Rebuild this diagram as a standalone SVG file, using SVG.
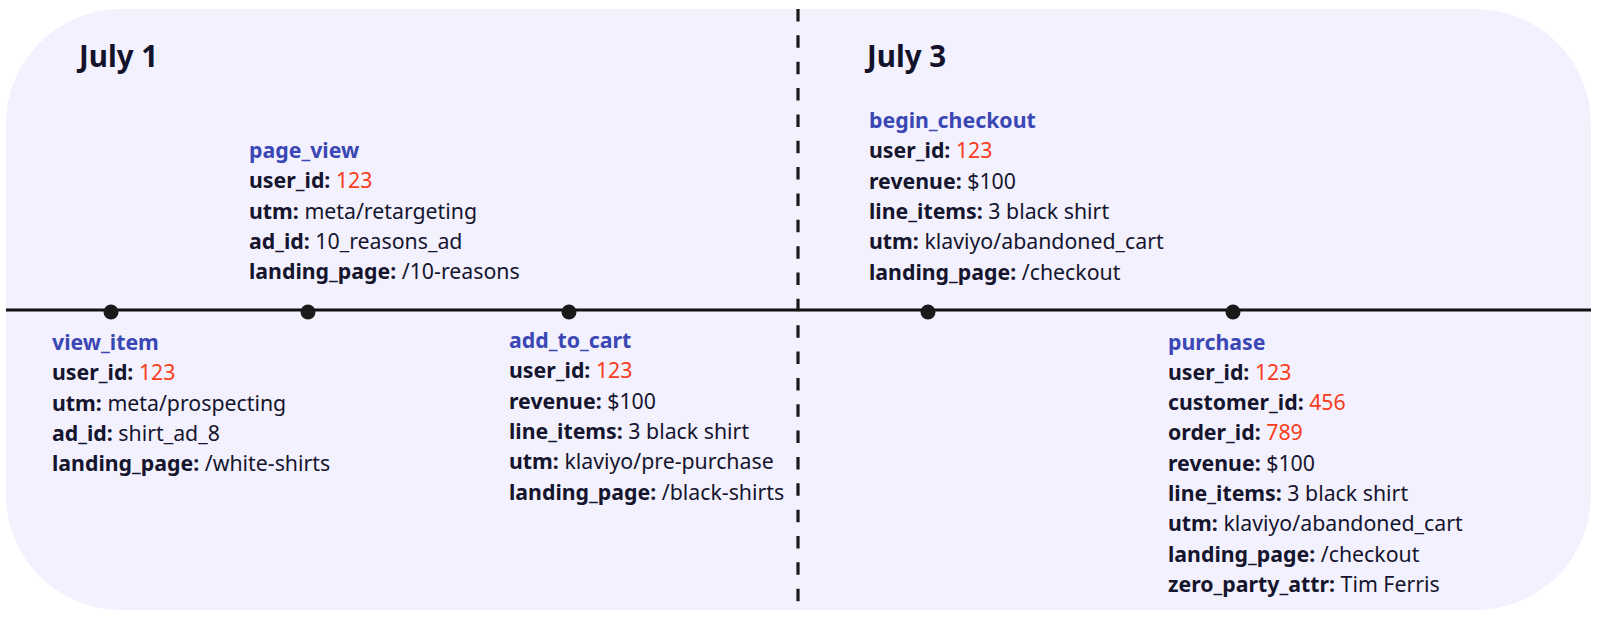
<svg xmlns="http://www.w3.org/2000/svg" width="1600" height="619" viewBox="0 0 1600 619">
<style>
.t{font-family:"Noto Sans","Open Sans","DejaVu Sans",sans-serif;font-size:21.3px;fill:#15152e}
.k{font-weight:700}
.ev{font-weight:700;fill:#3a47b5}
.n{fill:#fa3c20}
.title{font-family:"Noto Sans","Open Sans","DejaVu Sans",sans-serif;font-size:29.5px;font-weight:700;fill:#12122b}
.dot{fill:#1a1a1a}
</style>
<rect id="background" x="6" y="9" width="1585" height="601" rx="115" ry="115" fill="#f3f1fe"/>
<g id="connectors">
<line x1="6" y1="310" x2="1591" y2="310" stroke="#111" stroke-width="3"/>
<line x1="798" y1="9" x2="798" y2="610" stroke="#1a1a1a" stroke-width="3.2" stroke-dasharray="12.5 13.85"/>
</g>
<g id="dots">
<circle class="dot" cx="111" cy="312" r="7.5"/>
<circle class="dot" cx="308" cy="312" r="7.5"/>
<circle class="dot" cx="569" cy="312" r="7.5"/>
<circle class="dot" cx="928" cy="312" r="7.5"/>
<circle class="dot" cx="1233" cy="312" r="7.5"/>
</g>
<text id="july1" class="title" x="79" y="67">July 1</text>
<text id="july3" class="title" x="867" y="67">July 3</text>
<g id="page_view" class="t">
<text x="249" y="158" class="ev">page_view</text>
<text x="249" y="188.3"><tspan class="k">user_id:</tspan> <tspan class="n">123</tspan></text>
<text x="249" y="218.6"><tspan class="k">utm:</tspan> meta/retargeting</text>
<text x="249" y="248.9"><tspan class="k">ad_id:</tspan> 10_reasons_ad</text>
<text x="249" y="279.2"><tspan class="k">landing_page:</tspan> /10-reasons</text>
</g>
<g id="view_item" class="t">
<text x="52" y="350" class="ev">view_item</text>
<text x="52" y="380.3"><tspan class="k">user_id:</tspan> <tspan class="n">123</tspan></text>
<text x="52" y="410.6"><tspan class="k">utm:</tspan> meta/prospecting</text>
<text x="52" y="440.9"><tspan class="k">ad_id:</tspan> shirt_ad_8</text>
<text x="52" y="471.2"><tspan class="k">landing_page:</tspan> /white-shirts</text>
</g>
<g id="add_to_cart" class="t">
<text x="509" y="348" class="ev">add_to_cart</text>
<text x="509" y="378.3"><tspan class="k">user_id:</tspan> <tspan class="n">123</tspan></text>
<text x="509" y="408.6"><tspan class="k">revenue:</tspan> $100</text>
<text x="509" y="438.9"><tspan class="k">line_items:</tspan> 3 black shirt</text>
<text x="509" y="469.2"><tspan class="k">utm:</tspan> klaviyo/pre-purchase</text>
<text x="509" y="499.5"><tspan class="k">landing_page:</tspan> /black-shirts</text>
</g>
<g id="begin_checkout" class="t">
<text x="869" y="128" class="ev">begin_checkout</text>
<text x="869" y="158.3"><tspan class="k">user_id:</tspan> <tspan class="n">123</tspan></text>
<text x="869" y="188.6"><tspan class="k">revenue:</tspan> $100</text>
<text x="869" y="218.9"><tspan class="k">line_items:</tspan> 3 black shirt</text>
<text x="869" y="249.2"><tspan class="k">utm:</tspan> klaviyo/abandoned_cart</text>
<text x="869" y="279.5"><tspan class="k">landing_page:</tspan> /checkout</text>
</g>
<g id="purchase" class="t">
<text x="1168" y="349.5" class="ev">purchase</text>
<text x="1168" y="379.8"><tspan class="k">user_id:</tspan> <tspan class="n">123</tspan></text>
<text x="1168" y="410.1"><tspan class="k">customer_id:</tspan> <tspan class="n">456</tspan></text>
<text x="1168" y="440.4"><tspan class="k">order_id:</tspan> <tspan class="n">789</tspan></text>
<text x="1168" y="470.7"><tspan class="k">revenue:</tspan> $100</text>
<text x="1168" y="501"><tspan class="k">line_items:</tspan> 3 black shirt</text>
<text x="1168" y="531.3"><tspan class="k">utm:</tspan> klaviyo/abandoned_cart</text>
<text x="1168" y="561.6"><tspan class="k">landing_page:</tspan> /checkout</text>
<text x="1168" y="591.9"><tspan class="k">zero_party_attr:</tspan> Tim Ferris</text>
</g>
</svg>
